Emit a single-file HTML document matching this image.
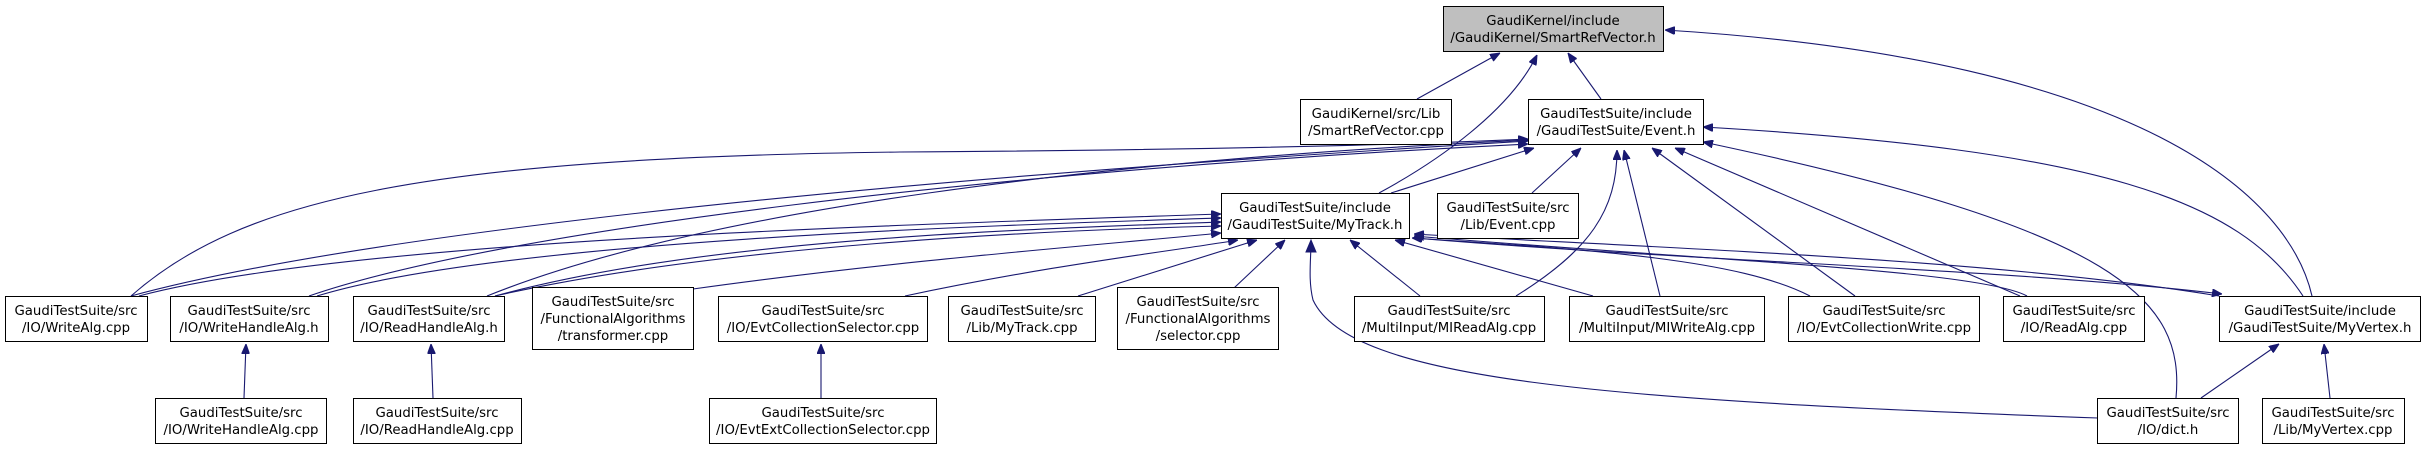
<!DOCTYPE html>
<html><head><meta charset="utf-8"><style>
html,body{margin:0;padding:0;background:#fff;}
svg{display:block;}
text{font-family:"DejaVu Sans","Liberation Sans",sans-serif;font-size:13.3px;fill:#000;text-anchor:middle;}
.b{fill:#fff;stroke:#000;stroke-width:1;}
.e{fill:none;stroke:#191970;stroke-width:1.1;}
</style></head><body>
<svg width="2426" height="450" viewBox="0 0 2426 450" xmlns="http://www.w3.org/2000/svg">
<defs>
<marker id="a" viewBox="0 0 10 8" refX="10" refY="4" markerWidth="10" markerHeight="8" markerUnits="userSpaceOnUse" orient="auto">
<path d="M0,0 L10,4 L0,8 z" fill="#191970" stroke="#191970"/>
</marker>
</defs>
<g class="edges">
<path class="e" marker-end="url(#a)" d="M1417,99 L1500,53"/>
<path class="e" marker-end="url(#a)" d="M1601,99 L1568,53"/>
<path class="e" marker-end="url(#a)" d="M1379,193 C1440,160 1510,110 1537,55"/>
<path class="e" marker-end="url(#a)" d="M2312,296 C2290,200 2150,60 1665,30"/>
<path class="e" marker-end="url(#a)" d="M1391,193 L1534,148"/>
<path class="e" marker-end="url(#a)" d="M1532,193 L1581,148"/>
<path class="e" marker-end="url(#a)" d="M131,296 C240,200 420,158 900,152 C1200,150 1400,145 1528,139"/>
<path class="e" marker-end="url(#a)" d="M131,296 C300,250 700,190 1528,141"/>
<path class="e" marker-end="url(#a)" d="M309,296 C500,230 1000,170 1528,144"/>
<path class="e" marker-end="url(#a)" d="M487,296 C700,210 1100,160 1528,140"/>
<path class="e" marker-end="url(#a)" d="M1516,296 C1590,250 1617,210 1617,150"/>
<path class="e" marker-end="url(#a)" d="M1660,296 L1624,150"/>
<path class="e" marker-end="url(#a)" d="M1855,296 L1652,148"/>
<path class="e" marker-end="url(#a)" d="M2020,296 L1675,148"/>
<path class="e" marker-end="url(#a)" d="M2176,398 C2185,300 2120,230 1703,142"/>
<path class="e" marker-end="url(#a)" d="M2303,296 C2240,200 2100,150 1703,127"/>
<path class="e" marker-end="url(#a)" d="M139,296 C350,240 900,225 1221,214"/>
<path class="e" marker-end="url(#a)" d="M317,296 C500,240 1000,225 1221,218"/>
<path class="e" marker-end="url(#a)" d="M495,296 C700,240 1000,230 1221,222"/>
<path class="e" marker-end="url(#a)" d="M495,296 C720,245 1050,230 1221,226"/>
<path class="e" marker-end="url(#a)" d="M693,289 C900,260 1100,245 1221,233"/>
<path class="e" marker-end="url(#a)" d="M905,296 C1050,265 1180,250 1238,240"/>
<path class="e" marker-end="url(#a)" d="M1078,296 L1257,240"/>
<path class="e" marker-end="url(#a)" d="M1234,288 L1285,240"/>
<path class="e" marker-end="url(#a)" d="M1420,296 L1350,240"/>
<path class="e" marker-end="url(#a)" d="M1593,296 L1395,240"/>
<path class="e" marker-end="url(#a)" d="M1810,296 C1740,260 1600,250 1412,238"/>
<path class="e" marker-end="url(#a)" d="M2027,296 C1980,270 1700,260 1414,236"/>
<path class="e" marker-end="url(#a)" d="M2219,296 C2000,260 1700,250 1414,234"/>
<path class="e" marker-end="url(#a)" d="M1414,238 C1700,262 2000,268 2222,294"/>
<path class="e" d="M2098,418 C1600,400 1350,380 1313,300 C1308,280 1311,260 1311,241"/>
<path d="M1306,252 L1311,240 L1316,252 z" fill="#191970" stroke="#191970"/>
<path class="e" marker-end="url(#a)" d="M244,398 L246,344"/>
<path class="e" marker-end="url(#a)" d="M433,398 L431,344"/>
<path class="e" marker-end="url(#a)" d="M821,398 L821,344"/>
<path class="e" marker-end="url(#a)" d="M2201,398 L2279,344"/>
<path class="e" marker-end="url(#a)" d="M2330,398 L2324,344"/>
</g>
<g>
<rect x="1443.5" y="6.5" width="220" height="45" fill="#bfbfbf" stroke="#000"/>
<text x="1553" y="25">GaudiKernel/include</text><text x="1553" y="42">/GaudiKernel/SmartRefVector.h</text>

<rect class="b" x="1300.5" y="99.5" width="151" height="45"/>
<text x="1376" y="118">GaudiKernel/src/Lib</text><text x="1376" y="135">/SmartRefVector.cpp</text>

<rect class="b" x="1528.5" y="99.5" width="175" height="45"/>
<text x="1616" y="118">GaudiTestSuite/include</text><text x="1616" y="135">/GaudiTestSuite/Event.h</text>

<rect class="b" x="1221.5" y="193.5" width="188" height="45"/>
<text x="1315" y="212">GaudiTestSuite/include</text><text x="1315" y="229">/GaudiTestSuite/MyTrack.h</text>

<rect class="b" x="1437.5" y="193.5" width="141" height="45"/>
<text x="1508" y="212">GaudiTestSuite/src</text><text x="1508" y="229">/Lib/Event.cpp</text>

<rect class="b" x="5.5" y="296.5" width="142" height="45"/>
<text x="76" y="315">GaudiTestSuite/src</text><text x="76" y="332">/IO/WriteAlg.cpp</text>

<rect class="b" x="170.5" y="296.5" width="158" height="45"/>
<text x="249" y="315">GaudiTestSuite/src</text><text x="249" y="332">/IO/WriteHandleAlg.h</text>

<rect class="b" x="353.5" y="296.5" width="151" height="45"/>
<text x="429" y="315">GaudiTestSuite/src</text><text x="429" y="332">/IO/ReadHandleAlg.h</text>

<rect class="b" x="532.5" y="287.5" width="161" height="62"/>
<text x="613" y="306">GaudiTestSuite/src</text><text x="613" y="323">/FunctionalAlgorithms</text><text x="613" y="340">/transformer.cpp</text>

<rect class="b" x="718.5" y="296.5" width="209" height="45"/>
<text x="823" y="315">GaudiTestSuite/src</text><text x="823" y="332">/IO/EvtCollectionSelector.cpp</text>

<rect class="b" x="948.5" y="296.5" width="147" height="45"/>
<text x="1022" y="315">GaudiTestSuite/src</text><text x="1022" y="332">/Lib/MyTrack.cpp</text>

<rect class="b" x="1117.5" y="287.5" width="161" height="62"/>
<text x="1198" y="306">GaudiTestSuite/src</text><text x="1198" y="323">/FunctionalAlgorithms</text><text x="1198" y="340">/selector.cpp</text>

<rect class="b" x="1354.5" y="296.5" width="190" height="45"/>
<text x="1449" y="315">GaudiTestSuite/src</text><text x="1449" y="332">/MultiInput/MIReadAlg.cpp</text>

<rect class="b" x="1569.5" y="296.5" width="195" height="45"/>
<text x="1667" y="315">GaudiTestSuite/src</text><text x="1667" y="332">/MultiInput/MIWriteAlg.cpp</text>

<rect class="b" x="1788.5" y="296.5" width="191" height="45"/>
<text x="1884" y="315">GaudiTestSuite/src</text><text x="1884" y="332">/IO/EvtCollectionWrite.cpp</text>

<rect class="b" x="2003.5" y="296.5" width="141" height="45"/>
<text x="2074" y="315">GaudiTestSuite/src</text><text x="2074" y="332">/IO/ReadAlg.cpp</text>

<rect class="b" x="2219.5" y="296.5" width="201" height="45"/>
<text x="2320" y="315">GaudiTestSuite/include</text><text x="2320" y="332">/GaudiTestSuite/MyVertex.h</text>

<rect class="b" x="155.5" y="398.5" width="171" height="45"/>
<text x="241" y="417">GaudiTestSuite/src</text><text x="241" y="434">/IO/WriteHandleAlg.cpp</text>

<rect class="b" x="353.5" y="398.5" width="168" height="45"/>
<text x="437" y="417">GaudiTestSuite/src</text><text x="437" y="434">/IO/ReadHandleAlg.cpp</text>

<rect class="b" x="709.5" y="398.5" width="227" height="45"/>
<text x="823" y="417">GaudiTestSuite/src</text><text x="823" y="434">/IO/EvtExtCollectionSelector.cpp</text>

<rect class="b" x="2097.5" y="398.5" width="141" height="45"/>
<text x="2168" y="417">GaudiTestSuite/src</text><text x="2168" y="434">/IO/dict.h</text>

<rect class="b" x="2262.5" y="398.5" width="142" height="45"/>
<text x="2333" y="417">GaudiTestSuite/src</text><text x="2333" y="434">/Lib/MyVertex.cpp</text>
</g>
</svg>
</body></html>
